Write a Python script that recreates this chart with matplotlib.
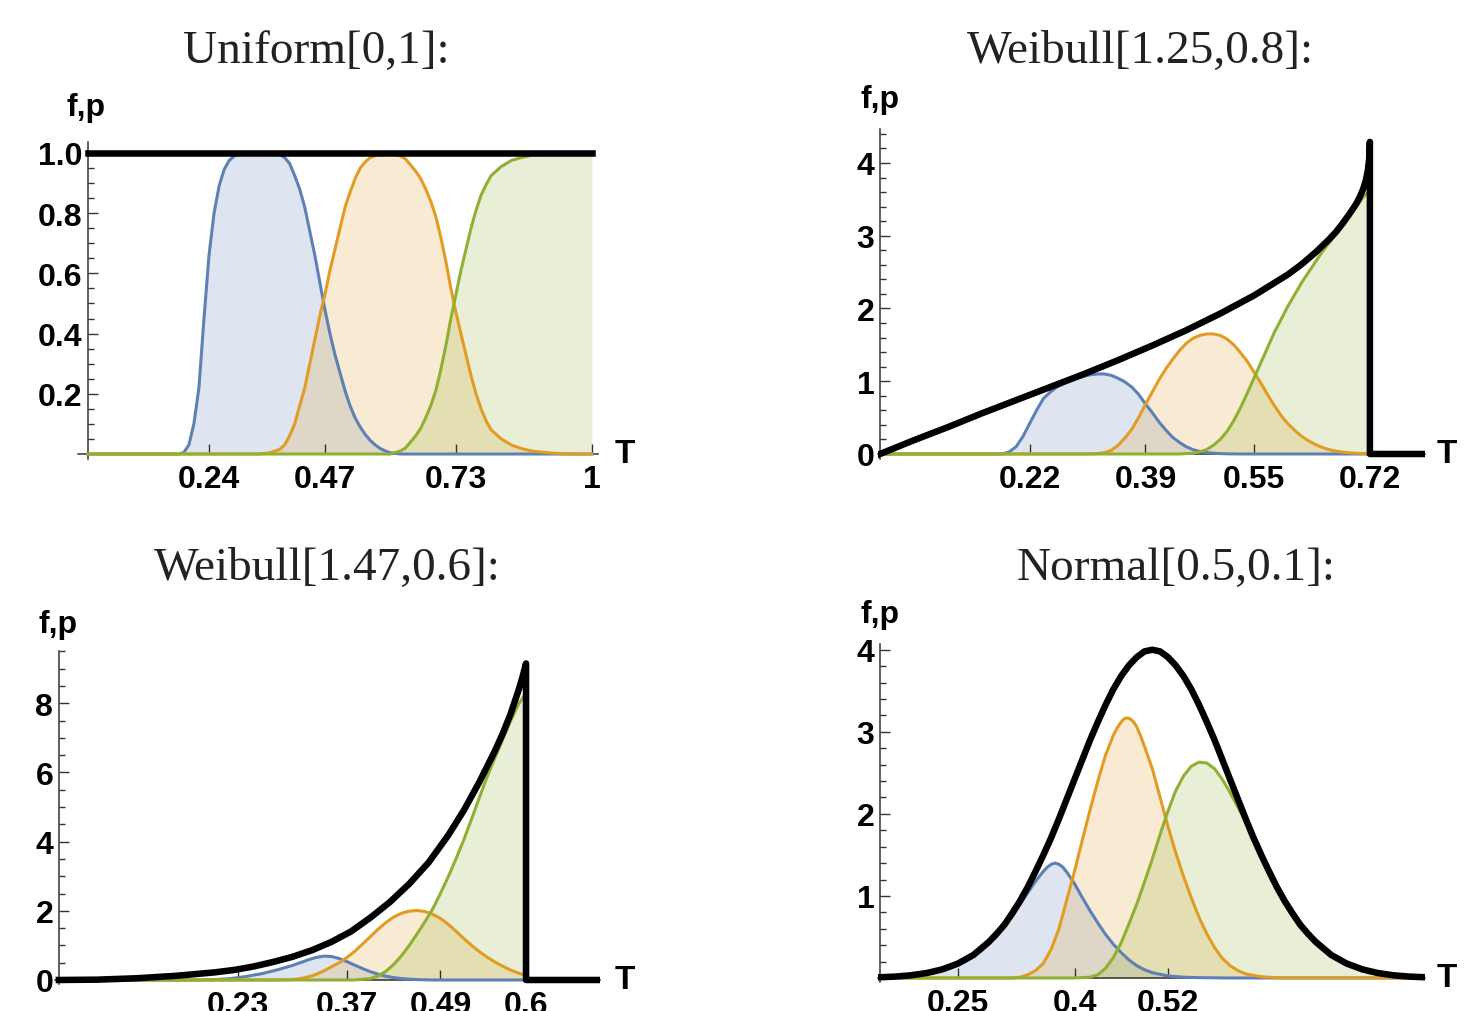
import matplotlib
matplotlib.use("Agg")
import matplotlib.pyplot as plt
from matplotlib.ticker import MultipleLocator

BLUE = "#5e81b5"
ORANGE = "#e19c24"
GREEN = "#8fb032"

# ---- Uniform[0,1] ----
uni_f_x = [0.0, 1.0]
uni_f_y = [1.0, 1.0]
uni_blue_x = [0.0, 0.18, 0.19, 0.20, 0.21, 0.22, 0.23, 0.24, 0.25, 0.26, 0.27, 0.28, 0.29, 0.30, 0.31,
              0.37, 0.38, 0.39, 0.40, 0.41, 0.42, 0.43, 0.44, 0.45, 0.46, 0.47, 0.48, 0.49, 0.50, 0.51,
              0.52, 0.53, 0.54, 0.55, 0.56, 0.57, 0.58, 0.59, 0.60, 0.62, 1.0]
uni_blue_y = [0.0, 0.0, 0.005, 0.03, 0.10, 0.22, 0.45, 0.66, 0.80, 0.89, 0.945, 0.975, 0.99, 0.997, 1.0,
              1.0, 0.995, 0.985, 0.965, 0.925, 0.88, 0.82, 0.74, 0.66, 0.57, 0.48, 0.40, 0.33, 0.27, 0.21,
              0.16, 0.12, 0.09, 0.065, 0.045, 0.03, 0.018, 0.01, 0.004, 0.0, 0.0]
uni_orange_x = [0.0, 0.34, 0.36, 0.38, 0.39, 0.40, 0.41, 0.42, 0.43, 0.44, 0.45, 0.46, 0.47, 0.48, 0.49,
                0.50, 0.51, 0.52, 0.53, 0.54, 0.55, 0.56, 0.58, 0.60, 0.62, 0.63, 0.64, 0.65, 0.66, 0.67,
                0.68, 0.69, 0.70, 0.71, 0.72, 0.73, 0.74, 0.75, 0.76, 0.77, 0.78, 0.79, 0.80, 0.82, 0.84,
                0.86, 0.88, 0.92, 0.96, 1.0]
uni_orange_y = [0.0, 0.0, 0.004, 0.015, 0.03, 0.06, 0.10, 0.16, 0.22, 0.30, 0.38, 0.46, 0.53, 0.61, 0.68,
                0.75, 0.82, 0.87, 0.915, 0.95, 0.97, 0.985, 0.997, 1.0, 0.99, 0.98, 0.96, 0.94, 0.915, 0.88,
                0.84, 0.79, 0.72, 0.64, 0.55, 0.47, 0.40, 0.33, 0.26, 0.20, 0.15, 0.11, 0.08, 0.05, 0.03,
                0.018, 0.01, 0.003, 0.0, 0.0]
uni_green_x = [0.0, 0.60, 0.62, 0.63, 0.64, 0.65, 0.66, 0.67, 0.68, 0.69, 0.70, 0.71, 0.72, 0.73, 0.74,
               0.75, 0.76, 0.77, 0.78, 0.79, 0.80, 0.82, 0.84, 0.86, 0.88, 0.92, 0.96, 1.0]
uni_green_y = [0.0, 0.0, 0.01, 0.02, 0.04, 0.06, 0.085, 0.12, 0.16, 0.21, 0.28, 0.36, 0.45, 0.53, 0.61,
               0.68, 0.75, 0.81, 0.86, 0.895, 0.925, 0.955, 0.975, 0.985, 0.992, 0.998, 1.0, 1.0]

# ---- Weibull[1.25,0.8] ----
wb1_f_x = [0.0, 0.05, 0.10, 0.15, 0.20, 0.25, 0.30, 0.35, 0.40, 0.45, 0.50, 0.55, 0.60, 0.62, 0.64,
           0.66, 0.67, 0.68, 0.69, 0.70, 0.705, 0.71, 0.714, 0.717, 0.719, 0.72, 0.72, 0.80]
wb1_f_y = [0.0, 0.19, 0.37, 0.56, 0.74, 0.92, 1.1, 1.29, 1.49, 1.70, 1.93, 2.18, 2.47, 2.61, 2.77,
           2.95, 3.05, 3.17, 3.30, 3.44, 3.53, 3.64, 3.76, 3.90, 4.06, 4.29, 0.0, 0.0]
wb1_blue_x = [0.0, 0.18, 0.19, 0.20, 0.21, 0.22, 0.23, 0.24, 0.25, 0.26, 0.27, 0.28, 0.29, 0.30, 0.31,
              0.32, 0.33, 0.34, 0.35, 0.36, 0.37, 0.38, 0.39, 0.40, 0.41, 0.42, 0.43, 0.44, 0.45, 0.46,
              0.47, 0.48, 0.49, 0.51, 0.53, 0.80]
wb1_blue_y = [0.0, 0.0, 0.03, 0.10, 0.24, 0.42, 0.60, 0.76, 0.85, 0.92, 0.97, 1.01, 1.04, 1.07, 1.09,
              1.10, 1.10, 1.08, 1.04, 0.99, 0.92, 0.82, 0.69, 0.57, 0.44, 0.33, 0.23, 0.16, 0.10, 0.06,
              0.035, 0.02, 0.01, 0.002, 0.0, 0.0]
wb1_orange_x = [0.0, 0.30, 0.31, 0.32, 0.33, 0.34, 0.35, 0.36, 0.37, 0.38, 0.39, 0.40, 0.41, 0.42, 0.43,
                0.44, 0.45, 0.46, 0.47, 0.48, 0.49, 0.50, 0.51, 0.52, 0.53, 0.54, 0.55, 0.56, 0.57, 0.58,
                0.59, 0.60, 0.61, 0.62, 0.63, 0.64, 0.65, 0.66, 0.67, 0.68, 0.69, 0.70, 0.71, 0.72, 0.80]
wb1_orange_y = [0.0, 0.0, 0.002, 0.005, 0.02, 0.05, 0.12, 0.22, 0.34, 0.50, 0.68, 0.85, 1.02, 1.17, 1.30,
                1.42, 1.52, 1.59, 1.63, 1.65, 1.65, 1.63, 1.58, 1.50, 1.39, 1.27, 1.12, 0.97, 0.81, 0.66,
                0.52, 0.41, 0.32, 0.24, 0.18, 0.13, 0.09, 0.06, 0.04, 0.025, 0.016, 0.01, 0.006, 0.003, 0.0]
wb1_green_x = [0.0, 0.44, 0.46, 0.47, 0.48, 0.49, 0.50, 0.51, 0.52, 0.53, 0.54, 0.55, 0.56, 0.57, 0.58,
               0.59, 0.60, 0.61, 0.62, 0.63, 0.64, 0.65, 0.66, 0.67, 0.68, 0.69, 0.70, 0.71, 0.72, 0.72, 0.80]
wb1_green_y = [0.0, 0.0, 0.01, 0.03, 0.06, 0.12, 0.20, 0.31, 0.46, 0.64, 0.84, 1.05, 1.26, 1.47, 1.68,
               1.86, 2.04, 2.20, 2.36, 2.50, 2.64, 2.78, 2.90, 3.02, 3.14, 3.27, 3.40, 3.53, 3.62, 0.0, 0.0]

# ---- Weibull[1.47,0.6] ----
wb2_f_x = [0.0, 0.05, 0.10, 0.15, 0.20, 0.225, 0.25, 0.275, 0.30, 0.325, 0.35, 0.375, 0.40, 0.425, 0.45,
           0.475, 0.50, 0.52, 0.54, 0.56, 0.57, 0.58, 0.59, 0.595, 0.60, 0.60, 0.695]
wb2_f_y = [0.0, 0.01, 0.05, 0.12, 0.22, 0.29, 0.39, 0.52, 0.67, 0.86, 1.10, 1.40, 1.80, 2.25, 2.78,
           3.40, 4.18, 4.90, 5.72, 6.62, 7.12, 7.68, 8.35, 8.72, 9.15, 0.0, 0.0]
wb2_blue_x = [0.0, 0.18, 0.20, 0.22, 0.24, 0.26, 0.28, 0.30, 0.31, 0.32, 0.33, 0.34, 0.35, 0.36, 0.37,
              0.38, 0.39, 0.40, 0.41, 0.42, 0.43, 0.44, 0.46, 0.48, 0.695]
wb2_blue_y = [0.0, 0.0, 0.01, 0.04, 0.10, 0.18, 0.29, 0.42, 0.50, 0.58, 0.65, 0.69, 0.68, 0.62, 0.53,
              0.43, 0.33, 0.24, 0.17, 0.11, 0.07, 0.04, 0.01, 0.0, 0.0]
wb2_orange_x = [0.0, 0.28, 0.30, 0.31, 0.32, 0.33, 0.34, 0.35, 0.36, 0.37, 0.38, 0.39, 0.40, 0.41, 0.42,
                0.43, 0.44, 0.45, 0.46, 0.47, 0.48, 0.49, 0.50, 0.51, 0.52, 0.53, 0.54, 0.55, 0.56, 0.57,
                0.58, 0.59, 0.60, 0.60, 0.695]
wb2_orange_y = [0.0, 0.0, 0.01, 0.04, 0.09, 0.16, 0.26, 0.38, 0.50, 0.65, 0.83, 1.04, 1.25, 1.47, 1.66,
                1.82, 1.93, 1.99, 2.01, 1.98, 1.90, 1.78, 1.61, 1.41, 1.20, 1.00, 0.82, 0.66, 0.52, 0.40,
                0.29, 0.20, 0.13, 0.0, 0.0]
wb2_green_x = [0.0, 0.38, 0.40, 0.41, 0.42, 0.43, 0.44, 0.45, 0.46, 0.47, 0.48, 0.49, 0.50, 0.51, 0.52,
               0.53, 0.54, 0.55, 0.56, 0.57, 0.58, 0.59, 0.60, 0.60, 0.695]
wb2_green_y = [0.0, 0.0, 0.04, 0.12, 0.25, 0.45, 0.70, 1.00, 1.33, 1.68, 2.05, 2.50, 2.98, 3.50, 4.05,
               4.65, 5.27, 5.87, 6.42, 6.95, 7.48, 7.96, 8.30, 0.0, 0.0]

# ---- Normal[0.5,0.1] ----
nrm_f_x = [0.15, 0.17, 0.19, 0.21, 0.23, 0.25, 0.27, 0.28, 0.29, 0.30, 0.31, 0.32, 0.33, 0.34, 0.35,
           0.36, 0.37, 0.38, 0.39, 0.40, 0.41, 0.42, 0.43, 0.44, 0.45, 0.46, 0.47, 0.48, 0.49, 0.50,
           0.51, 0.52, 0.53, 0.54, 0.55, 0.56, 0.57, 0.58, 0.59, 0.60, 0.61, 0.62, 0.63, 0.64, 0.65,
           0.66, 0.67, 0.68, 0.69, 0.70, 0.71, 0.72, 0.73, 0.75, 0.77, 0.79, 0.81, 0.83, 0.85]
nrm_f_y = [0.009, 0.017, 0.033, 0.06, 0.105, 0.175, 0.28, 0.36, 0.44, 0.54, 0.65, 0.79, 0.94, 1.11, 1.30,
           1.50, 1.71, 1.94, 2.18, 2.42, 2.66, 2.90, 3.12, 3.33, 3.52, 3.68, 3.81, 3.91, 3.98, 4.0,
           3.98, 3.91, 3.81, 3.68, 3.52, 3.33, 3.12, 2.90, 2.66, 2.42, 2.18, 1.94, 1.71, 1.50, 1.30,
           1.11, 0.94, 0.79, 0.65, 0.54, 0.44, 0.36, 0.28, 0.175, 0.105, 0.06, 0.033, 0.017, 0.009]
nrm_blue_x = [0.15, 0.18, 0.20, 0.22, 0.24, 0.26, 0.28, 0.30, 0.32, 0.34, 0.35, 0.36, 0.365, 0.37, 0.375,
              0.38, 0.385, 0.39, 0.40, 0.41, 0.42, 0.43, 0.44, 0.45, 0.46, 0.47, 0.48, 0.49, 0.50, 0.52,
              0.54, 0.56, 0.60, 0.85]
nrm_blue_y = [0.005, 0.02, 0.04, 0.07, 0.12, 0.20, 0.33, 0.51, 0.75, 1.04, 1.18, 1.30, 1.35, 1.385, 1.40,
              1.385, 1.35, 1.29, 1.15, 0.98, 0.82, 0.67, 0.53, 0.41, 0.31, 0.22, 0.15, 0.10, 0.065, 0.025,
              0.01, 0.004, 0.0, 0.0]
nrm_orange_x = [0.15, 0.32, 0.33, 0.34, 0.35, 0.36, 0.37, 0.38, 0.39, 0.40, 0.41, 0.42, 0.43, 0.44, 0.45,
                0.455, 0.46, 0.464, 0.468, 0.472, 0.476, 0.48, 0.485, 0.49, 0.50, 0.51, 0.52, 0.53, 0.54,
                0.55, 0.56, 0.57, 0.58, 0.59, 0.60, 0.61, 0.62, 0.64, 0.66, 0.70, 0.85]
nrm_orange_y = [0.0, 0.0, 0.01, 0.04, 0.09, 0.18, 0.35, 0.60, 0.95, 1.30, 1.68, 2.05, 2.40, 2.72, 2.96,
                3.05, 3.12, 3.16, 3.17, 3.155, 3.12, 3.06, 2.95, 2.82, 2.55, 2.20, 1.85, 1.53, 1.24,
                0.98, 0.74, 0.54, 0.37, 0.24, 0.15, 0.09, 0.05, 0.015, 0.004, 0.0, 0.0]
nrm_green_x = [0.15, 0.40, 0.42, 0.43, 0.44, 0.45, 0.46, 0.47, 0.48, 0.49, 0.50, 0.51, 0.52, 0.53, 0.54,
               0.55, 0.56, 0.57, 0.58, 0.59, 0.60, 0.61, 0.62, 0.64, 0.66, 0.68, 0.70, 0.72, 0.74, 0.76,
               0.78, 0.80, 0.82, 0.85]
nrm_green_y = [0.0, 0.0, 0.01, 0.04, 0.12, 0.25, 0.43, 0.66, 0.90, 1.17, 1.45, 1.75, 2.03, 2.28, 2.46,
               2.58, 2.63, 2.62, 2.55, 2.42, 2.26, 2.08, 1.91, 1.47, 1.08, 0.76, 0.53, 0.35, 0.22, 0.135,
               0.078, 0.045, 0.025, 0.008]

plt.rcParams["font.family"] = ["Liberation Sans", "DejaVu Sans"]
plt.rcParams["font.weight"] = "bold"

W, H = 1483, 1012
fig = plt.figure(figsize=(W / 100, H / 100), dpi=100)


def px_axes(left, right, top, bottom):
    return fig.add_axes([left / W, 1 - bottom / H, (right - left) / W, (bottom - top) / H])


def panel(ax, curves, fx, fy, xlim, ylim, x0, xt, xtl, yt, ytl, ymin):
    for x, y, c in curves:
        ax.fill_between(x, 0, y, color=c, alpha=0.2, lw=0, zorder=1)
    for x, y, c in curves:
        ax.plot(x, y, color=c, lw=2.2, zorder=3, solid_joinstyle="round")
    ax.plot(fx, fy, color="black", lw=4.7, zorder=4, solid_joinstyle="round")
    ax.set_xlim(xlim)
    ax.set_ylim(ylim)
    ax.spines["top"].set_visible(False)
    ax.spines["right"].set_visible(False)
    ax.spines["left"].set_position(("data", x0))
    ax.spines["bottom"].set_position(("data", 0))
    for s in ("left", "bottom"):
        ax.spines[s].set_color("#333333")
        ax.spines[s].set_linewidth(1.1)
    ax.patch.set_alpha(0)
    ax.set_xticks(xt, xtl)
    ax.set_yticks(yt, ytl)
    ax.yaxis.set_minor_locator(MultipleLocator(ymin))
    ax.tick_params(which="both", direction="in", color="#333333", width=1.0, labelsize=23)
    ax.tick_params(which="major", length=7)
    ax.tick_params(which="minor", length=4)
    ax.tick_params(axis="x", pad=7)
    ax.tick_params(axis="y", pad=4)


ax1 = px_axes(78, 598, 143, 460)
panel(ax1, [(uni_blue_x, uni_blue_y, BLUE), (uni_orange_x, uni_orange_y, ORANGE),
            (uni_green_x, uni_green_y, GREEN)], uni_f_x, uni_f_y,
      (-0.02, 1.012), (-0.0166, 1.0365), 0.0,
      [0.24, 0.47, 0.73, 1.0], ["0.24", "0.47", "0.73", "1"],
      [0.2, 0.4, 0.6, 0.8, 1.0], ["0.2", "0.4", "0.6", "0.8", "1.0"], 0.05)

ax2 = px_axes(878, 1425, 130, 460)
panel(ax2, [(wb1_blue_x, wb1_blue_y, BLUE), (wb1_orange_x, wb1_orange_y, ORANGE),
            (wb1_green_x, wb1_green_y, GREEN)], wb1_f_x, wb1_f_y,
      (-0.003, 0.801), (-0.069, 4.467), 0.0,
      [0.22, 0.39, 0.55, 0.72], ["0.22", "0.39", "0.55", "0.72"],
      [0, 1, 2, 3, 4], ["0", "1", "2", "3", "4"], 0.2)

ax3 = px_axes(55, 600, 652, 985)
panel(ax3, [(wb2_blue_x, wb2_blue_y, BLUE), (wb2_orange_x, wb2_orange_y, ORANGE),
            (wb2_green_x, wb2_green_y, GREEN)], wb2_f_x, wb2_f_y,
      (-0.005, 0.695), (-0.116, 9.51), 0.0,
      [0.23, 0.37, 0.49, 0.6], ["0.23", "0.37", "0.49", "0.6"],
      [0, 2, 4, 6, 8], ["0", "2", "4", "6", "8"], 0.5)

ax4 = px_axes(878, 1425, 645, 983)
panel(ax4, [(nrm_blue_x, nrm_blue_y, BLUE), (nrm_orange_x, nrm_orange_y, ORANGE),
            (nrm_green_x, nrm_green_y, GREEN)], nrm_f_x, nrm_f_y,
      (0.1474, 0.8505), (-0.049, 4.07), 0.15,
      [0.25, 0.4, 0.52], ["0.25", "0.4", "0.52"],
      [1, 2, 3, 4], ["1", "2", "3", "4"], 0.2)

titles = ["Uniform[0,1]:", "Weibull[1.25,0.8]:", "Weibull[1.47,0.6]:", "Normal[0.5,0.1]:"]
title_pos = [(316, 52), (1140, 52), (327, 569), (1176, 569)]
for t, (x, y) in zip(titles, title_pos):
    fig.text(x / W, 1 - y / H, t, ha="center", va="center", fontsize=34,
             family=["Liberation Serif", "DejaVu Serif"], fontweight="normal", color="#222222")

for x, y in [(86, 108), (880, 100), (58, 625), (880, 615)]:
    fig.text(x / W, 1 - y / H, "f,p", ha="center", va="center", fontsize=23, fontweight="bold")
for x, y in [(625, 455), (1447, 455), (625, 981), (1447, 979)]:
    fig.text(x / W, 1 - y / H, "T", ha="center", va="center", fontsize=24, fontweight="bold")

fig.savefig("out.png", dpi=100)
